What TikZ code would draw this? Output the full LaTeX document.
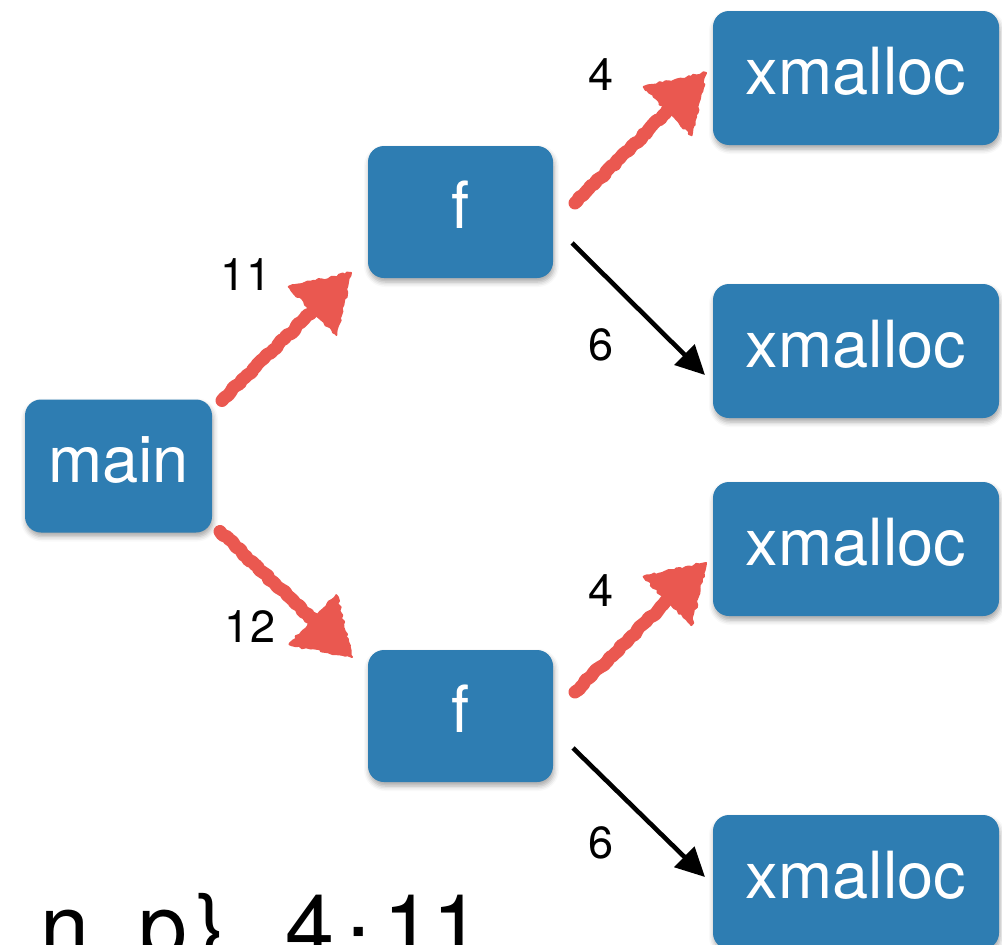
\documentclass[tikz,border=0pt]{standalone}
\usepackage{fontspec}
\setmainfont{TeX Gyre Heros}
\usetikzlibrary{arrows.meta,calc,decorations.pathmorphing,shadows.blur}

\definecolor{boxblue}{RGB}{46,125,178}
\definecolor{chalkred}{RGB}{234,88,80}

\tikzset{
  fnbox/.style={fill=boxblue, rounded corners=16pt, text=white,
    font=\fontsize{65}{65}\selectfont, text height=33pt, text depth=0pt,
    inner sep=0pt, outer sep=0pt,
    blur shadow={shadow xshift=1pt, shadow yshift=-4pt,
      shadow blur radius=5pt, shadow opacity=35}},
  mainbox/.style={fnbox, minimum width=187pt, minimum height=133pt},
  fbox/.style={fnbox, minimum width=185pt, minimum height=132pt},
  xbox/.style={fnbox, minimum width=286pt, minimum height=134pt},
  count/.style={font=\fontsize{45}{45}\selectfont, anchor=base, inner sep=0pt},
  plainarrow/.style={draw=black, line width=4.6pt,
    -{Triangle[length=29pt, width=28pt]}},
  chalkline/.style={draw=chalkred, line width=13pt, line cap=round,
    line join=round, decorate,
    decoration={random steps, segment length=4pt, amplitude=1.3pt}},
  chalkhead/.style={fill=chalkred, draw=chalkred, line width=2pt,
    line join=round, decorate,
    decoration={random steps, segment length=3pt, amplitude=1.3pt}},
}

% hand-drawn red arrow between two named coordinates
\newcommand\chalkarrow[2]{%
  \draw[chalkline] (#1) -- ($(#2)!46pt!(#1)$);
  \coordinate (#2-base) at ($(#2)!54pt!(#1)$);
  \fill[chalkhead] (#2) -- ($(#2-base)!34pt!90:(#2)$)
    -- ($(#2-base)!34pt!-90:(#2)$) -- cycle;
}

% one fixed-pitch character cell of the caption line
\newcommand\cell[1]{\makebox[49pt]{#1}}

\begin{document}
\begin{tikzpicture}[x=1pt, y=-1pt]
  \useasboundingbox (0,0) rectangle (1002,945);
  \clip (0,0) rectangle (1002,945);
  \pgfmathsetseed{7}

  % call graph nodes
  \node[mainbox] (main) at (118.5,466) {main};
  \node[fbox] (ftop) at (460.5,212) {f};
  \node[fbox] (fbot) at (460.5,716) {f};
  \node[xbox] (x1) at (856,78) {xmalloc};
  \node[xbox] (x2) at (856,351) {xmalloc};
  \node[xbox] (x3) at (856,549) {xmalloc};
  \node[xbox] (x4) at (856,882) {xmalloc};

  % end points of the red (hot) edges
  \coordinate (a1) at ([shift={(10,1)}]main.north east);
  \coordinate (b1) at ([shift={(-17,-5)}]ftop.south west);
  \coordinate (a2) at ([shift={(8,-1)}]main.south east);
  \coordinate (b2) at ([shift={(-16,7)}]fbot.north west);
  \coordinate (a3) at ([shift={(22,-9)}]ftop.east);
  \coordinate (b3) at ([shift={(-7,-5)}]x1.west);
  \coordinate (a4) at ([shift={(22,-24)}]fbot.east);
  \coordinate (b4) at ([shift={(-7,14)}]x3.west);

  \chalkarrow{a1}{b1}
  \chalkarrow{a2}{b2}
  \chalkarrow{a3}{b3}
  \chalkarrow{a4}{b4}

  % ordinary edges
  \draw[plainarrow] ([shift={(19,31)}]ftop.east) -- ([shift={(-8,24)}]x2.west);
  \draw[plainarrow] ([shift={(20,32)}]fbot.east) -- ([shift={(-8,-5)}]x4.west);

  % edge counts
  \node[count] (c11) at (246,290) {11};
  \node[count] (c12) at (250,642) {12};
  \node[count] (c4a) at (601,90) {4};
  \node[count] (c6a) at (601,360) {6};
  \node[count] (c4b) at (601,606) {4};
  \node[count] (c6b) at (601,858) {6};

  % caption line running off the bottom edge, set on a fixed pitch
  \node[anchor=base west, inner sep=0pt, font=\fontsize{88}{88}\selectfont]
    (caption) at (40,957)
    {\cell{n}\cell{}\cell{p}\cell{\}}\cell{}\cell{4}%
     \cell{\raisebox{-16pt}{:}}\cell{1}\cell{1}};
\end{tikzpicture}
\end{document}
